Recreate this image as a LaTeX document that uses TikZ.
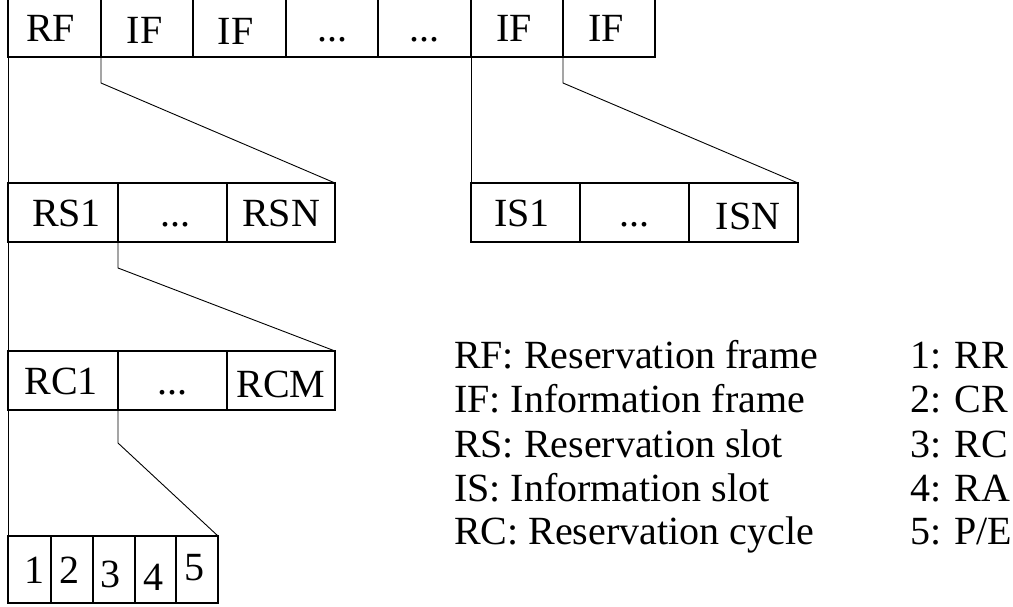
\documentclass[tikz,border=0pt]{standalone}
\usepackage{fontspec}
\setmainfont{Liberation Serif}
\begin{document}
\begin{tikzpicture}[x=1pt,y=-1pt,
  every node/.style={inner sep=0pt, outer sep=0pt},
  cell/.style={draw, line width=1.1pt, rectangle, anchor=north west,
    minimum height=59pt, text height=27pt, text depth=0pt,
    font=\fontsize{40}{44}\selectfont},
  link/.style={line width=0.9pt},
  legend/.style={anchor=base west, font=\fontsize{40}{44}\selectfont}
]
\useasboundingbox (0,0) rectangle (1013,606);
% top row
\node[cell, minimum width=93pt, minimum height=58.5pt] (rf)  at (8,-1.5)   {\kern-8pt RF};
\node[cell, minimum width=92pt, minimum height=58.5pt] (if1) at (101,-1.5) {\kern-5pt\raisebox{-2pt}{IF}};
\node[cell, minimum width=93pt, minimum height=58.5pt] (if2) at (193,-1.5) {\kern-8pt\raisebox{-3pt}{IF}};
\node[cell, minimum width=92pt, minimum height=58.5pt] (d1)  at (286,-1.5) {...};
\node[cell, minimum width=93pt, minimum height=58.5pt] (d2)  at (378,-1.5) {...};
\node[cell, minimum width=92pt, minimum height=58.5pt] (if3) at (471,-1.5) {\kern-6pt IF};
\node[cell, minimum width=92pt, minimum height=58.5pt] (if4) at (563,-1.5) {\kern-6pt IF};
% RS row
\node[cell, minimum width=110pt] (rs1) at (8,183)   {\kern7pt RS1};
\node[cell, minimum width=109pt] (rsd) at (118,183) {\kern5pt ...};
\node[cell, minimum width=108pt] (rsn) at (227,183) {RSN};
% IS row
\node[cell, minimum width=109pt] (is1) at (471,183) {\kern-7pt IS1};
\node[cell, minimum width=109pt] (isd) at (580,183) {...};
\node[cell, minimum width=109pt] (isn) at (689,183) {\kern9pt\raisebox{-3pt}{ISN}};
% RC row
\node[cell, minimum width=110pt] (rc1) at (8,351)   {\kern-4pt RC1};
\node[cell, minimum width=109pt] (rcd) at (118,351) {...};
\node[cell, minimum width=108pt] (rcm) at (227,351) {\raisebox{-3pt}{RCM}};
% bottom row
\node[cell, minimum width=43pt, minimum height=67pt] (b1) at (8,536)   {\kern10pt 1};
\node[cell, minimum width=42pt, minimum height=67pt] (b2) at (51,536)  {\kern-6pt 2};
\node[cell, minimum width=42pt, minimum height=67pt] (b3) at (93,536)  {\kern-8pt\raisebox{-4pt}{3}};
\node[cell, minimum width=41pt, minimum height=67pt] (b4) at (135,536) {\kern-5pt\raisebox{-7pt}{4}};
\node[cell, minimum width=42pt, minimum height=67pt] (b5) at (176,536) {\kern-6pt\raisebox{3pt}{5}};
% kink coordinates
\coordinate (k1) at (101,83);
\coordinate (k2) at (563,83);
\coordinate (k3) at (118,268);
\coordinate (k4) at (118,443);
% connectors
\draw[link] (rf.south west) -- (rs1.north west);
\draw[link] (rs1.south west) -- (rc1.north west);
\draw[link] (rc1.south west) -- (b1.north west);
\draw[link] (if3.south west) -- (is1.north west);
\draw[link] (rf.south east) -- (k1) -- (rsn.north east);
\draw[link] (if4.south west) -- (k2) -- (isn.north east);
\draw[link] (rs1.south east) -- (k3) -- (rcm.north east);
\draw[link] (rc1.south east) -- (k4) -- (b5.north east);
% legend
\node[legend] (l1) at (454,368) {RF: Reservation frame};
\node[legend] (l2) at (454,412) {IF: Information frame};
\node[legend] (l3) at (454,457) {RS: Reservation slot};
\node[legend] (l4) at (454,501) {IS: Information slot};
\node[legend] (l5) at (454,544) {RC: Reservation cycle};
\node[legend] (m1) at (910,368) {1: RR};
\node[legend] (m2) at (910,412) {2: CR};
\node[legend] (m3) at (910,457) {3: RC};
\node[legend] (m4) at (910,501) {4: RA};
\node[legend] (m5) at (910,544) {5: P/E};
\end{tikzpicture}
\end{document}
